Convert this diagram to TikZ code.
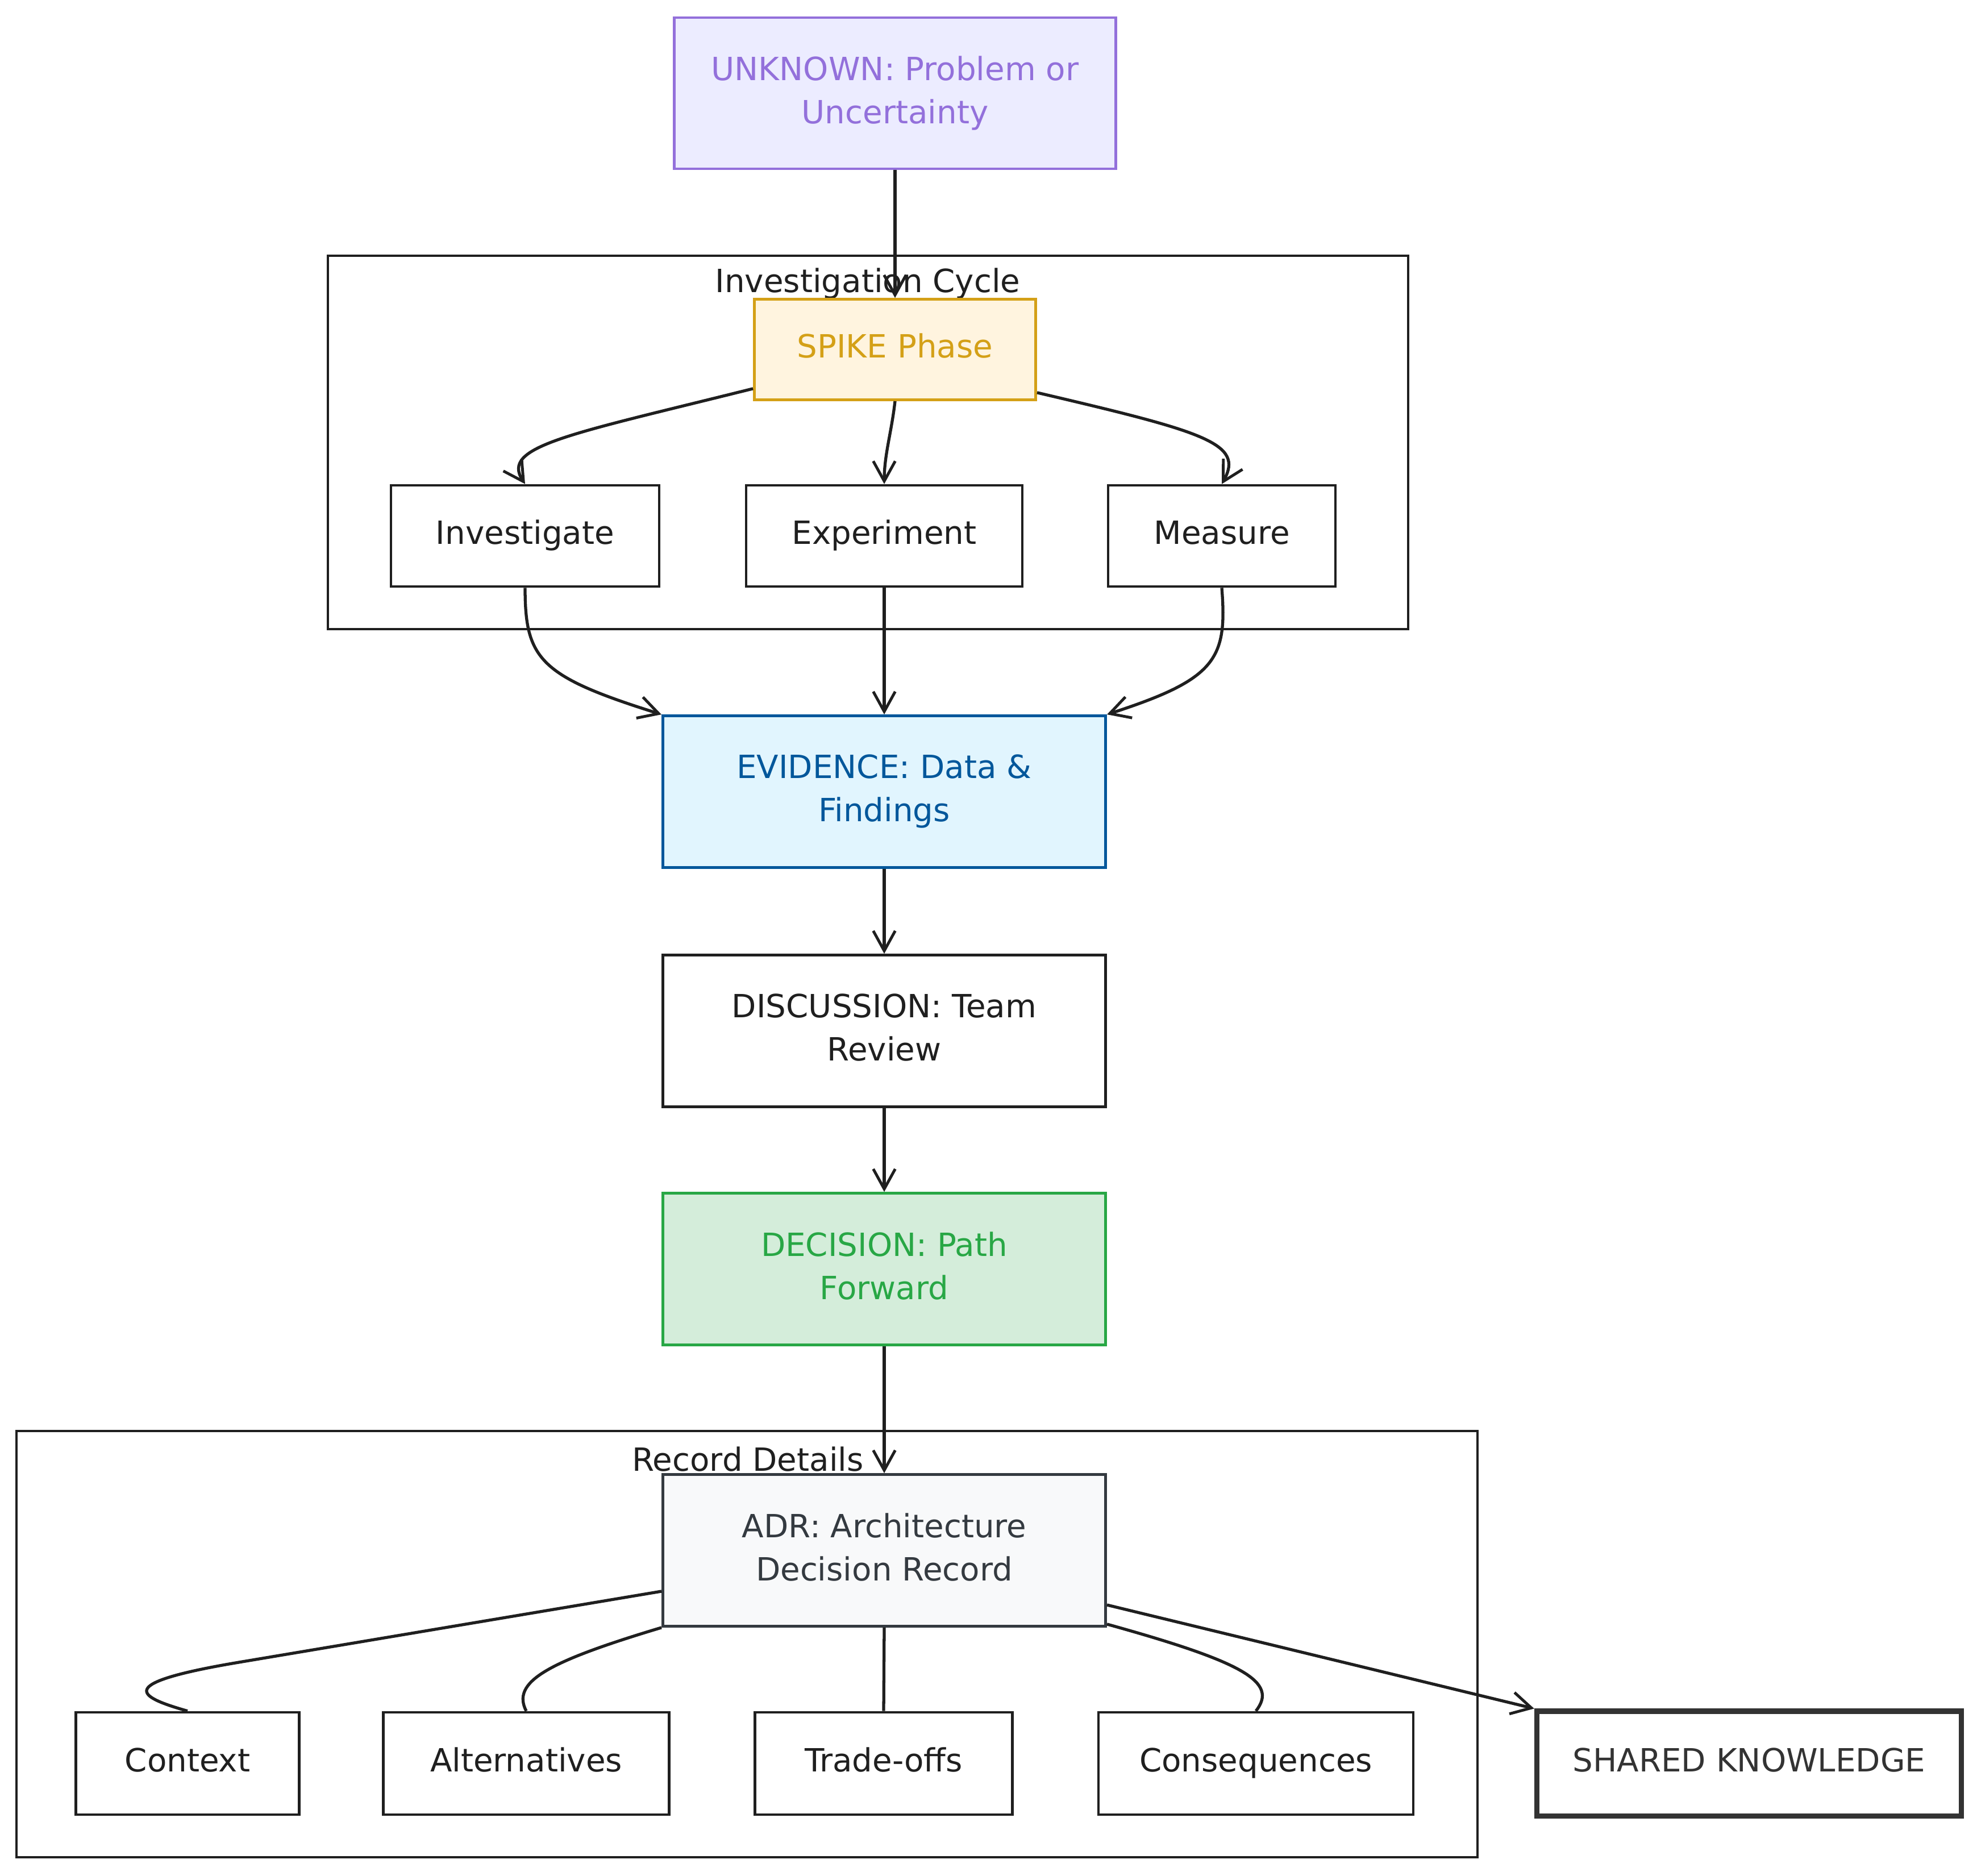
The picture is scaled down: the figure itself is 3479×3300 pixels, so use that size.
\documentclass[tikz,border=0pt]{standalone}
\usepackage{fontspec}
\setmainfont{DejaVu Sans}
\usetikzlibrary{arrows.meta,calc}
\definecolor{ink}{HTML}{1F1F1F}
\definecolor{unkfill}{HTML}{ECECFF}
\definecolor{unkdraw}{HTML}{9370DB}
\definecolor{spkfill}{HTML}{FFF4DF}
\definecolor{spkdraw}{HTML}{D4A017}
\definecolor{evifill}{HTML}{E1F5FE}
\definecolor{evidraw}{HTML}{01579B}
\definecolor{decfill}{HTML}{D4EDDA}
\definecolor{decdraw}{HTML}{28A745}
\definecolor{adrfill}{HTML}{F8F9FA}
\definecolor{adrdraw}{HTML}{343A40}
\definecolor{shkdraw}{HTML}{333333}
\begin{document}
\begin{tikzpicture}[x=0.01cm,y=-0.01cm,
  basebox/.style={draw=ink, fill=white, line width=1.3pt, align=center, inner sep=0pt,
    font=\fontsize{16}{21.5}\selectfont, text=ink, minimum height=1.78cm},
  onebox/.style={basebox, text height=11.5pt, text depth=3.5pt},
  bigbox/.style={basebox, minimum width=7.79cm, minimum height=2.67cm, text depth=3.5pt},
  group/.style={draw=ink, line width=1.2pt},
  grouplabel/.style={font=\fontsize{16}{21.5}\selectfont, text=ink},
  conn/.style={draw=ink, line width=1.5pt},
  conarrow/.style={conn, -{Straight Barb[length=10pt,width=11pt,line width=1.4pt]}}
]
\useasboundingbox (0,0) rectangle (3479,3300);

% subgraphs
\draw[group] (577,450) rectangle (2478,1107);
\node[grouplabel] (invlabel) at (1527,499) {Investigation Cycle};
\draw[group] (29,2518) rectangle (2600,3268);
\node[grouplabel] (reclabel) at (1316,2567) {Record Details};

% nodes
\node[bigbox, fill=unkfill, draw=unkdraw, text=unkdraw, minimum width=7.77cm, minimum height=2.66cm] (unk) at (1575,164) {UNKNOWN: Problem or\\Uncertainty};
\node[onebox, fill=spkfill, draw=spkdraw, text=spkdraw, minimum width=4.95cm, minimum height=1.77cm] (spike) at (1575,615) {SPIKE Phase};
\node[onebox, minimum width=4.72cm] (inv) at (924,943) {Investigate};
\node[onebox, minimum width=4.86cm] (exp) at (1556,943) {Experiment};
\node[onebox, minimum width=4.00cm] (mea) at (2150,943) {Measure};
\node[bigbox, fill=evifill, draw=evidraw, text=evidraw] (evi) at (1556,1393) {EVIDENCE: Data \&\\Findings};
\node[bigbox] (dis) at (1556,1814) {DISCUSSION: Team\\Review};
\node[bigbox, fill=decfill, draw=decdraw, text=decdraw] (dec) at (1556,2233) {DECISION: Path\\Forward};
\node[bigbox, fill=adrfill, draw=adrdraw, text=adrdraw] (adr) at (1556,2728) {ADR: Architecture\\Decision Record};
\node[onebox, minimum width=3.93cm, minimum height=1.80cm] (ctx) at (330,3103) {Context};
\node[onebox, minimum width=5.03cm, minimum height=1.80cm] (alt) at (926,3103) {Alternatives};
\node[onebox, minimum width=4.53cm, minimum height=1.80cm] (trd) at (1555,3103) {Trade-offs};
\node[onebox, minimum width=5.54cm, minimum height=1.80cm] (con) at (2210,3103) {Consequences};
\node[onebox, draw=shkdraw, text=shkdraw, line width=2.6pt, minimum width=7.47cm, minimum height=1.84cm] (shk) at (3078,3103) {SHARED KNOWLEDGE};

% connectors
\draw[conarrow] (unk.south) -- (spike.north);
\draw[conarrow] ($(spike.south west)+(0,-22)$) .. controls (1000,765) and (880,785) .. (inv.north);
\draw[conarrow] (spike.south) .. controls (1569,760) and (1556,800) .. (exp.north);
\draw[conarrow] ($(spike.south east)+(0,-15)$) .. controls (2120,760) and (2190,780) .. (mea.north);
\draw[conarrow] (inv.south) .. controls (924,1160) and (950,1190) .. (evi.north west);
\draw[conarrow] (exp.south) -- (evi.north);
\draw[conarrow] (mea.south) .. controls (2160,1160) and (2140,1195) .. (evi.north east);
\draw[conarrow] (evi.south) -- (dis.north);
\draw[conarrow] (dis.south) -- (dec.north);
\draw[conarrow] (dec.south) -- (adr.north);
\draw[conn] ($(adr.west)+(0,72)$) -- (420,2925) .. controls (200,2962) and (240,2985) .. (ctx.north);
\draw[conn] (adr.south west) .. controls (960,2925) and (900,2960) .. (alt.north);
\draw[conn] (adr.south) -- (trd.north);
\draw[conn] ($(adr.south east)+(0,-6)$) .. controls (2190,2925) and (2250,2960) .. (con.north);
\draw[conarrow] ($(adr.east)+(0,96)$) -- (shk.north west);
\end{tikzpicture}
\end{document}
